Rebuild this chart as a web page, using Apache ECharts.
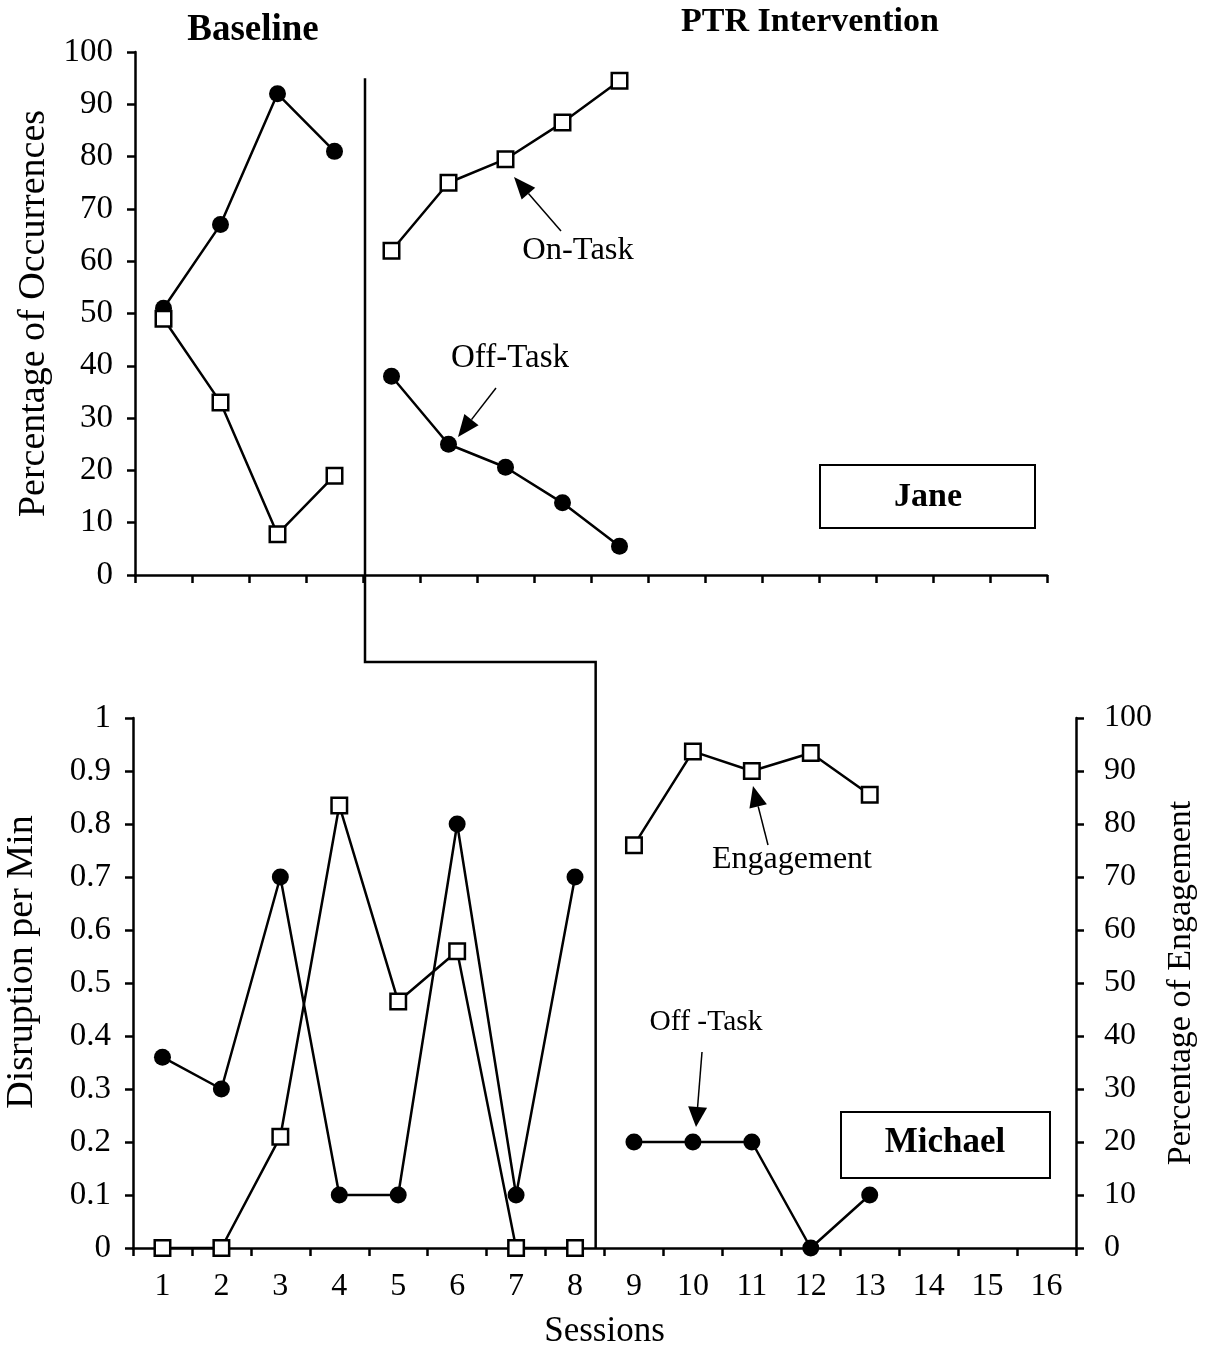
<!DOCTYPE html>
<html>
<head>
<meta charset="utf-8">
<script src="https://cdn.jsdelivr.net/npm/echarts@6/dist/echarts.min.js"></script>
<style>html,body{margin:0;padding:0;background:#fff}#c{width:1206px;height:1348px}</style>
</head>
<body>
<div id="c"></div>
<script>
// ---- data ----
const sessions = ['1','2','3','4','5','6','7','8','9','10','11','12','13','14','15','16'];
const janeOffTaskBaseline = [51, 67, 92, 81];
const janeOffTaskPTR = [38, 25, 20.6, 13.8, 5.5];
const janeOnTaskBaseline = [49, 33, 7.8, 19];
const janeOnTaskPTR = [62, 75, 79.5, 86.5, 94.5];
const michaelDisruptionBaseline = [0.36, 0.30, 0.70, 0.10, 0.10, 0.80, 0.10, 0.70];
const michaelDisruptionPTR = [0.2, 0.2, 0.2, 0, 0.1];
const michaelEngagementBaseline = [0, 0, 21, 83.5, 46.5, 56, 0, 0];
const michaelEngagementPTR = [76, 93.7, 90, 93.4, 85.5];
const occTicks = [0,10,20,30,40,50,60,70,80,90,100];
const disruptionTicks = ['0','0.1','0.2','0.3','0.4','0.5','0.6','0.7','0.8','0.9','1'];

const FONT = '"Liberation Serif", "Times New Roman", serif';
const BLACK = '#000';

function place(values, start) {
  const out = sessions.map(() => '-');
  values.forEach((v, i) => { out[start + i] = v; });
  return out;
}

const circleSeries = (data, xi, yi) => ({
  type: 'line', xAxisIndex: xi, yAxisIndex: yi, data: data,
  symbol: 'circle', symbolSize: 17, showAllSymbol: true,
  itemStyle: { color: BLACK }, lineStyle: { color: BLACK, width: 2.5 },
  connectNulls: false, silent: true
});
const squareSeries = (data, xi, yi) => ({
  type: 'line', xAxisIndex: xi, yAxisIndex: yi, data: data,
  symbol: 'rect', symbolSize: 15.5, showAllSymbol: true,
  itemStyle: { color: '#fff', borderColor: BLACK, borderWidth: 2.5 },
  lineStyle: { color: BLACK, width: 2.5 },
  connectNulls: false, silent: true
});

const axisLine = { show: true, lineStyle: { color: BLACK, width: 2.5 } };
const axisTick = { show: true, inside: false, length: 8, lineStyle: { color: BLACK, width: 2.5 } };
const lblLeft = { color: BLACK, fontFamily: FONT, fontSize: 33 };
const lbl = { color: BLACK, fontFamily: FONT, fontSize: 32 };
const nameLeft = { color: BLACK, fontFamily: FONT, fontSize: 38 };
const nameStyle = { color: BLACK, fontFamily: FONT, fontSize: 34 };

const chart = echarts.init(document.getElementById('c'), null, { renderer: 'canvas' });
chart.setOption({
  animation: false,
  backgroundColor: '#fff',
  textStyle: { fontFamily: FONT, color: BLACK },
  grid: [
    { left: 135, right: 159, top: 52, height: 523, outerBoundsMode: 'none', containLabel: false },
    { left: 133, right: 130, top: 718, height: 530, outerBoundsMode: 'none', containLabel: false }
  ],
  xAxis: [
    { gridIndex: 0, type: 'category', data: sessions, boundaryGap: true,
      axisLine: axisLine, axisTick: axisTick, axisLabel: { show: false }, splitLine: { show: false } },
    { gridIndex: 1, type: 'category', data: sessions, boundaryGap: true,
      axisLine: axisLine, axisTick: axisTick,
      axisLabel: Object.assign({ margin: 23, interval: 0 }, lbl), splitLine: { show: false },
      name: 'Sessions', nameLocation: 'middle', nameGap: 66, nameTextStyle: Object.assign({}, nameStyle, { fontSize: 35 }) }
  ],
  yAxis: [
    { gridIndex: 0, type: 'value', min: 0, max: 100, interval: 10, position: 'left',
      axisLine: axisLine, axisTick: axisTick, splitLine: { show: false },
      axisLabel: Object.assign({ margin: 22 }, lblLeft),
      name: 'Percentage of Occurrences', nameLocation: 'middle', nameRotate: 90, nameGap: 81, nameTextStyle: nameLeft },
    { gridIndex: 1, type: 'value', min: 0, max: 1, interval: 0.1, position: 'left',
      axisLine: axisLine, axisTick: axisTick, splitLine: { show: false },
      axisLabel: Object.assign({ margin: 22, formatter: (v) => disruptionTicks[Math.round(v * 10)] }, lblLeft),
      name: 'Disruption per Min', nameLocation: 'middle', nameRotate: 90, nameGap: 92,
      nameTextStyle: Object.assign({ padding: [0, 0, 0, 42] }, nameLeft) },
    { gridIndex: 1, type: 'value', min: 0, max: 100, interval: 10, position: 'right',
      axisLine: axisLine, axisTick: axisTick, splitLine: { show: false },
      axisLabel: Object.assign({ margin: 28 }, lbl),
      name: 'Percentage of Engagement', nameLocation: 'middle', nameRotate: 90, nameGap: 88, nameTextStyle: nameStyle }
  ],
  series: [
    circleSeries(place(janeOffTaskBaseline, 0), 0, 0),
    circleSeries(place(janeOffTaskPTR, 4), 0, 0),
    squareSeries(place(janeOnTaskBaseline, 0), 0, 0),
    squareSeries(place(janeOnTaskPTR, 4), 0, 0),
    circleSeries(place(michaelDisruptionBaseline, 0), 1, 1),
    circleSeries(place(michaelDisruptionPTR, 8), 1, 1),
    squareSeries(place(michaelEngagementBaseline, 0), 1, 2),
    squareSeries(place(michaelEngagementPTR, 8), 1, 2)
  ]
});

// ---- annotations (phase-change line, labels, arrows, boxes) ----
function arrow(x1, y1, x2, y2, len, w) {
  const dx = x2 - x1, dy = y2 - y1, d = Math.sqrt(dx * dx + dy * dy);
  const ux = dx / d, uy = dy / d;
  const bx = x2 - ux * len, by = y2 - uy * len;
  const px = -uy * w / 2, py = ux * w / 2;
  return [
    { type: 'line', shape: { x1: x1, y1: y1, x2: bx, y2: by }, style: { stroke: BLACK, lineWidth: 1.5 }, z: 100 },
    { type: 'polygon', shape: { points: [[x2, y2], [bx + px, by + py], [bx - px, by - py]] }, style: { fill: BLACK }, z: 100 }
  ];
}
function txt(text, x, y, size, bold) {
  return { type: 'text', x: x, y: y, z: 100,
    style: { text: text, fontFamily: FONT, fontSize: size, fontWeight: bold ? 'bold' : 'normal',
      fill: BLACK, align: 'center', verticalAlign: 'middle' } };
}
function box(x, y, w, h) {
  return { type: 'rect', shape: { x: x, y: y, width: w, height: h }, z: 90,
    style: { fill: '#fff', stroke: BLACK, lineWidth: 2 } };
}

const topX4 = chart.convertToPixel({ xAxisIndex: 0 }, '4');
const topX5 = chart.convertToPixel({ xAxisIndex: 0 }, '5');
const phaseTopX = (topX4 + topX5) / 2 + 2;
const phaseTopY = chart.convertToPixel({ yAxisIndex: 0 }, 95);
const botX8 = chart.convertToPixel({ xAxisIndex: 1 }, '8');
const botX9 = chart.convertToPixel({ xAxisIndex: 1 }, '9');
const phaseBotX = botX8 + (botX9 - botX8) * 0.35;
const botY0 = chart.convertToPixel({ yAxisIndex: 1 }, 0);
const stepY = 662;

const graphics = [
  { type: 'polyline', z: 80,
    shape: { points: [[phaseTopX, phaseTopY], [phaseTopX, stepY], [phaseBotX, stepY], [phaseBotX, botY0]] },
    style: { stroke: BLACK, lineWidth: 2.5, fill: null } },
  txt('Baseline', 253, 30, 37, true),
  txt('PTR Intervention', 810, 22, 34, true),
  box(820, 465, 215, 63),
  txt('Jane', 928, 497, 34, true),
  box(841, 1112, 209, 66),
  txt('Michael', 945, 1143, 35, true),
  txt('On-Task', 578, 250, 32.5, false),
  txt('Off-Task', 510, 358, 33, false),
  txt('Engagement', 792, 860, 32, false),
  txt('Off -Task', 706, 1022, 29.5, false)
].concat(
  arrow(561, 231, 514, 177, 22, 18),
  arrow(496, 388, 458, 437, 22, 18),
  arrow(768, 845, 753, 786, 21, 18),
  arrow(702, 1052, 696, 1127, 20, 19)
);
chart.setOption({ graphic: graphics });
</script>
</body>
</html>
